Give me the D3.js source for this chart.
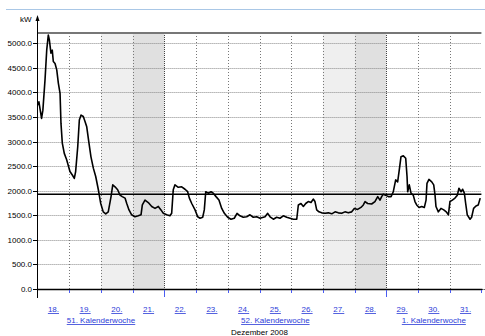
<!DOCTYPE html>
<html>
<head>
<meta charset="utf-8">
<script src="https://cdn.jsdelivr.net/npm/d3@7"></script>
<style>
	body { margin: 0; background: #fff; }
	svg { display: block; font-family: 'Liberation Sans', Arial, sans-serif; }
	.label--day, .label--week { fill: #2b3bd8; font-size: 8px; text-decoration: underline; }
	.label--y { font-size: 8px; fill: #000; }
</style>
</head>
<body>
<div class="chart"></div>
<script>
const WIDTH = 485;
const HEIGHT = 336;

// hours since 18.12.2008 00:00
const HOURS = [
	0, 1, 2, 3, 4, 5.6, 6.9, 8.1, 8.9, 10.1, 11.1, 11.9, 13.2, 14.5, 15.7, 17, 17.7, 18.7,
	20.2, 22, 24.5, 26.3, 27.8, 28.8, 30.4, 31.6, 32.9, 34.6, 35.9, 37.2, 38.9, 40.4, 42.2,
	44, 46, 47.8, 49.7, 51.6, 53.5, 55.6, 56.9, 58.6, 60.6, 62.4, 64.1, 66.2, 67.5, 69.2,
	71.2, 73.7, 76.2, 78.3, 79.3, 81.3, 83.8, 86.4, 88.9, 91.4, 93.4, 95.2, 97.7, 100.2,
	101.5, 102.7, 104, 106.5, 109.1, 111.6, 113.6, 114.9, 116.7, 119.2, 121.2, 123, 125,
	126.2, 127.3, 129.2, 131.3, 133, 135.1, 137.3, 139.4, 141.4, 143.9, 146.4, 148.9, 151,
	153.2, 155.7, 158.3, 160.8, 163.3, 165.9, 168.4, 172.2, 174.2, 176, 178.5, 181, 183.5,
	186, 188.6, 191.1, 193.6, 196.2, 197.4, 199.4, 201.2, 203, 204.9, 207, 208.7, 210,
	211.3, 213, 215.1, 217.6, 220.1, 222.7, 225.2, 227.7, 230.2, 232.7, 235.2, 237.8,
	239.8, 242.3, 244.8, 246.6, 247.9, 249.9, 252.9, 255.4, 257.5, 259.2, 260.5, 261.7,
	263.5, 265.5, 267.6, 269.3, 271.1, 272.6, 273.8, 275.1, 276.9, 278.7, 279.7, 280.2,
	281.4, 282.7, 284.4, 285.7, 287, 288.8, 290.8, 292.8, 294.1, 294.8, 296.3, 298.4,
	299.9, 300.9, 301.6, 303.4, 305.4, 307.5, 309.4, 311, 312.2, 314, 316, 317.8, 319,
	320.6, 321.8, 323.1, 324.1, 325.3, 327.4, 328.6, 330.1, 331.9, 333.6, 335.1
];

const KW = [
	3740, 3810, 3640, 3470, 3640, 4250, 4860, 5170, 5070, 4800, 4860, 4630, 4590, 4460, 4190, 3980, 3370, 2970,
	2760, 2630, 2390, 2320, 2250, 2390, 2900, 3440, 3540, 3510, 3410, 3300, 2970, 2690, 2460,
	2290, 2020, 1740, 1570, 1530, 1570, 1880, 2120, 2080, 2020, 1910, 1880, 1850, 1740, 1610,
	1510, 1470, 1490, 1510, 1710, 1810, 1760, 1680, 1640, 1680, 1610, 1540, 1510, 1490,
	1540, 2020, 2120, 2070, 2080, 2030, 1980, 1850, 1740, 1610, 1470, 1440, 1460,
	1610, 1980, 1950, 1980, 1950, 1880, 1810, 1640, 1540, 1460, 1420, 1440, 1540,
	1490, 1460, 1470, 1510, 1460, 1470, 1440, 1470, 1540, 1470, 1420, 1460, 1440,
	1490, 1460, 1440, 1420, 1420, 1710, 1740, 1680, 1740, 1780, 1760, 1830, 1780,
	1610, 1570, 1550, 1540, 1550, 1530, 1570, 1550, 1540, 1570, 1550, 1570,
	1640, 1620, 1660, 1710, 1780, 1740, 1730, 1780, 1880, 1810, 1880, 1930,
	1910, 1880, 1880, 1980, 2220, 2180, 2420, 2690, 2710, 2660, 2290, 1980,
	2120, 1950, 1910, 1780, 1710, 1660, 1680, 1660, 1810, 2150, 2230, 2180,
	2120, 1910, 1680, 1570, 1640, 1610, 1570, 1510, 1780, 1810, 1850, 1910, 2050,
	1980, 2030, 1950, 1740, 1510, 1420, 1460, 1640, 1690, 1710, 1850
];

const DAYS = ['18.', '19.', '20.', '21.', '22.', '23.', '24.', '25.', '26.', '27.', '28.', '29.', '30.', '31.'];
const WEEKENDS = [{ day: 2, shade: '#efefef' }, { day: 3, shade: '#e0e0e0' }, { day: 9, shade: '#efefef' }, { day: 10, shade: '#e0e0e0' }];
const WEEKS = [
	{ label: '51. Kalenderwoche', from: 0, to: 4 },
	{ label: '52. Kalenderwoche', from: 4, to: 11 },
	{ label: '1. Kalenderwoche', from: 11, to: 14 }
];
const Y_TICKS = d3.range(0, 5001, 500);
const Y_MAX = 5210;
const REFERENCE_KW = 1930;
const MONTH_LABEL = 'Dezember 2008';
const UNIT = 'kW';

const LEFT = 37.6;
const RIGHT = 481.4;
const TOP = 33;
const BOTTOM = 289;
const BLUE = '#2b3bd8';

const x = d3.scaleLinear().domain([0, 14 * 24]).range([LEFT, RIGHT]);
const y = d3.scaleLinear().domain([0, Y_MAX]).range([BOTTOM, TOP]);
const xDay = d => x(d * 24);

const svg = d3.select('.chart').append('svg').attr('width', WIDTH).attr('height', HEIGHT);

function drawFrame() {
	svg.append('line')
		.attr('x1', 6).attr('x2', WIDTH)
		.attr('y1', 9.5).attr('y2', 9.5)
		.attr('stroke', '#a9c7e6');

	svg.selectAll('.weekend')
		.data(WEEKENDS)
		.enter()
		.append('rect')
		.attr('class', 'weekend')
		.attr('x', d => xDay(d.day))
		.attr('width', d => xDay(d.day + 1) - xDay(d.day))
		.attr('y', y(Y_MAX))
		.attr('height', y(0) - y(Y_MAX))
		.attr('fill', d => d.shade);

	svg.selectAll('.grid--y')
		.data(Y_TICKS.filter(v => v > 0))
		.enter()
		.append('line')
		.attr('class', 'grid--y')
		.attr('x1', LEFT).attr('x2', RIGHT)
		.attr('y1', d => Math.round(y(d)) + 0.5).attr('y2', d => Math.round(y(d)) + 0.5)
		.attr('stroke', '#8a8a8a')
		.attr('stroke-dasharray', '1,1');

	svg.selectAll('.grid--x')
		.data(d3.range(1, 14))
		.enter()
		.append('line')
		.attr('class', 'grid--x')
		.attr('x1', d => Math.round(xDay(d)) + 0.5).attr('x2', d => Math.round(xDay(d)) + 0.5)
		.attr('y1', y(Y_MAX)).attr('y2', BOTTOM)
		.attr('stroke', d => (d === 4 || d === 11 ? '#444' : '#777'))
		.attr('stroke-dasharray', d => (d === 4 || d === 11 ? '1,1' : '1,2'));

	svg.append('line')
		.attr('x1', LEFT).attr('x2', RIGHT)
		.attr('y1', y(Y_MAX)).attr('y2', y(Y_MAX))
		.attr('stroke', '#777')
		.attr('stroke-width', 2);
}

function drawAxes() {
	const axisY = svg.append('g');
	axisY.append('line')
		.attr('x1', 37.5).attr('x2', 37.5)
		.attr('y1', 18).attr('y2', 298)
		.attr('stroke', '#000');
	axisY.append('path')
		.attr('d', 'M37.5,15 L35.5,21 L39.5,21 Z')
		.attr('fill', '#000');
	axisY.append('text')
		.attr('class', 'label--y')
		.attr('x', 20).attr('y', 22)
		.text(UNIT);

	const ticks = axisY.selectAll('.tick').data(Y_TICKS).enter().append('g').attr('class', 'tick');
	ticks.append('line')
		.attr('x1', 33).attr('x2', 37)
		.attr('y1', d => Math.round(y(d)) + 0.5).attr('y2', d => Math.round(y(d)) + 0.5)
		.attr('stroke', '#000');
	ticks.append('text')
		.attr('class', 'label--y')
		.attr('x', 32)
		.attr('y', d => y(d) + 3)
		.attr('text-anchor', 'end')
		.text(d => d.toFixed(1));

	const axisX = svg.append('g');
	axisX.append('line')
		.attr('x1', LEFT).attr('x2', RIGHT + 1)
		.attr('y1', BOTTOM + 0.5).attr('y2', BOTTOM + 0.5)
		.attr('stroke', '#000')
		.attr('stroke-width', 1.5);
	axisX.append('line')
		.attr('x1', RIGHT + 1).attr('x2', WIDTH)
		.attr('y1', BOTTOM + 0.5).attr('y2', BOTTOM + 0.5)
		.attr('stroke', '#000')
		.attr('stroke-dasharray', '1,1');

	axisX.selectAll('.tick--x')
		.data(d3.range(1, 15))
		.enter()
		.append('line')
		.attr('class', 'tick--x')
		.attr('x1', d => Math.round(xDay(d)) + 0.5).attr('x2', d => Math.round(xDay(d)) + 0.5)
		.attr('y1', BOTTOM + 1)
		.attr('y2', d => BOTTOM + (d === 4 || d === 11 ? 8 : 4))
		.attr('stroke', '#4a5cf0');

	axisX.selectAll('.label--day')
		.data(DAYS)
		.enter()
		.append('text')
		.attr('class', 'label--day')
		.attr('x', (d, i) => (xDay(i) + xDay(i + 1)) / 2)
		.attr('y', 312)
		.attr('text-anchor', 'middle')
		.text(d => d);

	axisX.selectAll('.label--week')
		.data(WEEKS)
		.enter()
		.append('text')
		.attr('class', 'label--week')
		.attr('x', d => (xDay(d.from) + xDay(d.to)) / 2)
		.attr('y', 323)
		.attr('text-anchor', 'middle')
		.text(d => d.label);

	axisX.append('text')
		.attr('class', 'label--y')
		.attr('x', (LEFT + RIGHT) / 2)
		.attr('y', 335)
		.attr('text-anchor', 'middle')
		.text(MONTH_LABEL);
}

function drawSeries() {
	const data = HOURS.map((h, i) => ({ h, kw: KW[i] }));
	const line = d3.line()
		.x(d => x(d.h))
		.y(d => y(d.kw));

	svg.append('path')
		.datum(data)
		.attr('d', line)
		.attr('fill', 'none')
		.attr('stroke', '#000')
		.attr('stroke-width', 1.6)
		.attr('stroke-linejoin', 'round');

	svg.append('line')
		.attr('x1', LEFT).attr('x2', RIGHT)
		.attr('y1', y(REFERENCE_KW)).attr('y2', y(REFERENCE_KW))
		.attr('stroke', '#000')
		.attr('stroke-width', 1.5);
}

drawFrame();
drawAxes();
drawSeries();
</script>
</body>
</html>
